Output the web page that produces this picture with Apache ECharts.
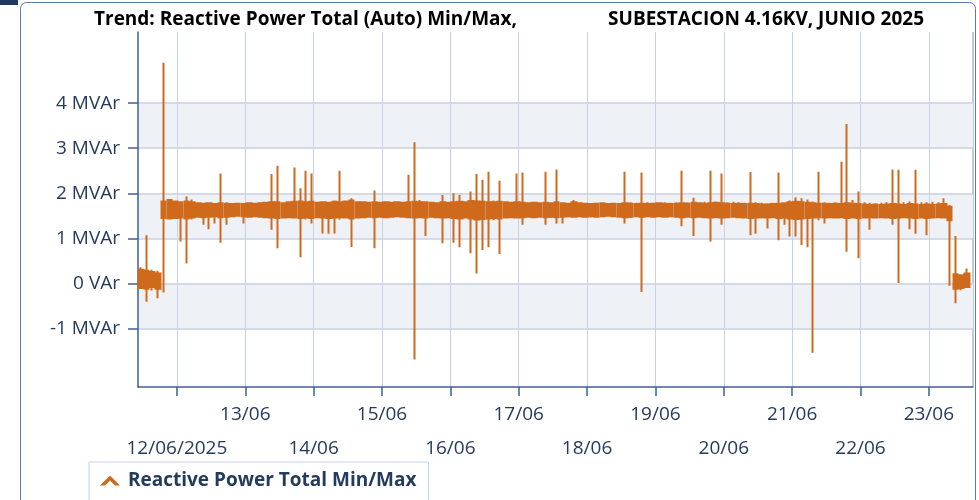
<!DOCTYPE html>
<html>
<head>
<meta charset="utf-8">
<title>Reactive Power Total</title>
<script src="https://cdn.jsdelivr.net/npm/echarts@6/dist/echarts.min.js"></script>
<style>
  html, body { margin: 0; padding: 0; background: #fff; }
  #main { width: 979px; height: 500px; }
</style>
</head>
<body>
<div id="main"></div>
<script>
// x is the day of June 2025 (12 = 12/06 00:00)
// 2 hour buckets, first one starts 11/06/2025 10:20
var START = 11 + (10 + 20 / 60) / 24;
var STEP = 2 / 24;

// max of each bucket (MVAr)
var maxVals = [
  0.36, 1.07, 0.30, 0.28, 4.90, 1.84, 1.80, 1.80, 1.93, 1.86,   // 0
  1.80, 1.78, 1.79, 1.77, 2.44, 1.80, 1.78, 1.77, 1.78, 1.79,   // 10
  1.78, 1.80, 1.79, 2.43, 2.61, 1.80, 1.82, 2.57, 2.11, 2.50,   // 20
  2.44, 1.80, 1.82, 1.80, 1.84, 2.50, 1.82, 1.89, 1.82, 1.80,   // 30
  1.81, 2.06, 1.80, 1.82, 1.80, 1.81, 1.80, 2.41, 3.13, 1.85,   // 40
  1.82, 1.80, 1.80, 1.96, 1.80, 2.00, 1.96, 1.82, 2.04, 2.43,   // 50
  2.30, 2.48, 1.84, 2.28, 1.82, 1.80, 2.44, 2.46, 1.80, 1.79,   // 60
  1.80, 2.48, 1.80, 2.53, 1.80, 1.79, 1.85, 1.80, 1.79, 1.78,   // 70
  1.79, 1.80, 1.78, 1.79, 1.78, 2.48, 1.80, 1.79, 2.46, 1.80,   // 80
  1.79, 1.80, 1.80, 1.79, 1.80, 2.50, 1.80, 1.90, 1.80, 1.81,   // 90
  2.50, 1.82, 2.44, 1.80, 1.81, 1.80, 1.79, 2.47, 1.80, 1.79,   // 100
  1.78, 1.79, 2.46, 1.80, 1.84, 1.91, 1.89, 1.86, 1.82, 2.48,   // 110
  1.80, 1.79, 1.80, 2.70, 3.54, 1.85, 2.04, 1.80, 1.79, 1.78,   // 120
  1.79, 1.80, 2.53, 2.52, 1.80, 1.82, 2.52, 1.80, 1.80, 1.81,   // 130
  1.80, 1.89, 1.74, 1.05, 0.19, 0.33                            // 140
];

// min of each bucket (MVAr)
var minVals = [
  -0.12, -0.41, -0.16, -0.33, -0.20, 1.45, 1.50, 0.93, 0.44, 1.42,
  1.48, 1.30, 1.20, 1.33, 0.90, 1.30, 1.48, 1.50, 1.33, 1.50,
  1.50, 1.49, 1.48, 1.19, 0.78, 1.45, 1.47, 1.44, 0.58, 1.42,
  1.33, 1.45, 1.11, 1.10, 1.11, 1.42, 1.45, 0.81, 1.45, 1.47,
  1.48, 0.78, 1.47, 1.48, 1.47, 1.49, 1.46, 1.45, -1.69, 1.45,
  1.05, 1.47, 1.48, 0.89, 1.46, 0.90, 0.80, 1.45, 0.67, 0.22,
  0.74, 0.80, 1.40, 0.65, 1.46, 1.47, 1.45, 1.30, 1.47, 1.48,
  1.47, 1.30, 1.45, 1.33, 1.33, 1.46, 1.47, 1.48, 1.47, 1.46,
  1.48, 1.47, 1.48, 1.47, 1.46, 1.33, 1.45, 1.47, -0.19, 1.47,
  1.48, 1.47, 1.48, 1.47, 1.46, 1.27, 1.46, 1.05, 1.46, 1.47,
  0.93, 1.46, 1.30, 1.47, 1.46, 1.47, 1.45, 1.07, 1.10, 1.44,
  1.22, 1.45, 0.96, 1.30, 1.04, 1.04, 0.85, 0.80, -1.54, 1.40,
  1.33, 1.46, 1.47, 1.46, 0.70, 1.45, 0.56, 1.46, 1.19, 1.47,
  1.48, 1.47, 1.30, 0.01, 1.46, 1.20, 1.10, 1.46, 1.07, 1.47,
  1.48, 1.45, -0.05, -0.44, -0.15, -0.10
];

// upper edge of the dense part of the trace in each bucket
var bandHi = [
  0.30, 0.28, 0.25, 0.22, 1.82, 1.85, 1.82, 1.80, 1.82, 1.80,
  1.78, 1.77, 1.78, 1.76, 1.78, 1.77, 1.76, 1.77, 1.76, 1.78,
  1.77, 1.78, 1.79, 1.80, 1.80, 1.78, 1.80, 1.81, 1.82, 1.80,
  1.81, 1.79, 1.80, 1.79, 1.81, 1.80, 1.82, 1.84, 1.80, 1.80,
  1.79, 1.80, 1.79, 1.80, 1.79, 1.80, 1.79, 1.80, 1.81, 1.80,
  1.80, 1.79, 1.78, 1.80, 1.79, 1.80, 1.81, 1.80, 1.83, 1.82,
  1.81, 1.80, 1.80, 1.81, 1.80, 1.79, 1.80, 1.79, 1.78, 1.79,
  1.78, 1.79, 1.78, 1.80, 1.78, 1.77, 1.80, 1.78, 1.77, 1.76,
  1.77, 1.78, 1.76, 1.77, 1.76, 1.78, 1.77, 1.76, 1.77, 1.76,
  1.77, 1.78, 1.77, 1.76, 1.77, 1.78, 1.77, 1.79, 1.78, 1.77,
  1.78, 1.79, 1.78, 1.77, 1.76, 1.77, 1.76, 1.77, 1.76, 1.75,
  1.75, 1.76, 1.77, 1.78, 1.80, 1.81, 1.80, 1.79, 1.78, 1.77,
  1.77, 1.76, 1.77, 1.76, 1.78, 1.77, 1.76, 1.75, 1.74, 1.75,
  1.74, 1.75, 1.76, 1.75, 1.74, 1.76, 1.75, 1.74, 1.75, 1.74,
  1.75, 1.76, 1.70, 0.20, 0.18, 0.22
];

// lower edge of the dense part of the trace in each bucket
var bandLo = [
  -0.10, -0.12, -0.08, -0.12, 1.45, 1.44, 1.45, 1.46, 1.44, 1.46,
  1.48, 1.47, 1.48, 1.49, 1.47, 1.48, 1.49, 1.50, 1.49, 1.48,
  1.49, 1.48, 1.47, 1.46, 1.45, 1.46, 1.47, 1.46, 1.45, 1.46,
  1.45, 1.47, 1.46, 1.45, 1.46, 1.47, 1.46, 1.44, 1.46, 1.47,
  1.48, 1.47, 1.48, 1.47, 1.48, 1.49, 1.48, 1.47, 1.46, 1.47,
  1.46, 1.48, 1.47, 1.46, 1.47, 1.45, 1.44, 1.46, 1.44, 1.42,
  1.43, 1.44, 1.45, 1.44, 1.46, 1.47, 1.46, 1.47, 1.48, 1.47,
  1.48, 1.47, 1.48, 1.47, 1.48, 1.49, 1.48, 1.49, 1.48, 1.49,
  1.48, 1.49, 1.50, 1.49, 1.48, 1.47, 1.48, 1.49, 1.48, 1.49,
  1.48, 1.49, 1.48, 1.49, 1.48, 1.47, 1.48, 1.47, 1.48, 1.47,
  1.46, 1.47, 1.46, 1.47, 1.48, 1.47, 1.46, 1.45, 1.46, 1.47,
  1.46, 1.47, 1.45, 1.46, 1.44, 1.43, 1.44, 1.45, 1.46, 1.47,
  1.46, 1.47, 1.46, 1.47, 1.45, 1.46, 1.45, 1.46, 1.47, 1.46,
  1.47, 1.46, 1.45, 1.46, 1.47, 1.46, 1.45, 1.46, 1.45, 1.46,
  1.47, 1.46, 1.40, -0.12, -0.10, -0.08
];

var yTicks = [-1, 0, 1, 2, 3, 4];
var dayTicks = [12, 13, 14, 15, 16, 17, 18, 19, 20, 21, 22, 23];
var upperDays = [13, 15, 17, 19, 21, 23];    // first label row
var lowerDays = [12, 14, 16, 18, 20, 22];    // second label row

var labelColor = '#243b5e';
var axisColor = '#3f5f96';
var gridColor = '#c9d1e2';
var orange = '#cf6a1d';
var font = 'Open Sans';

var xMin = 11 + (10 + 20 / 60) / 24;
var xMax = 23 + 15.5 / 24;

function dayLabel(v) {
    var d = Math.round(v);
    return d === 12 ? '12/06/2025' : d + '/06';
}

// one candle per bucket: body = dense band, wick = min/max
var bucketData = [];
for (var i = 0; i < maxVals.length; i++) {
    bucketData.push([START + i * STEP + STEP / 2, bandLo[i], bandHi[i], minVals[i], maxVals[i]]);
}

var chartDom = document.getElementById('main');
var myChart = echarts.init(chartDom, null, { renderer: 'canvas' });

var option = {
    animation: false,
    backgroundColor: '#fff',
    title: [
        {
            text: 'Trend: Reactive Power Total (Auto) Min/Max,',
            left: 89, top: 5,
            textStyle: { fontFamily: font, fontSize: 19, fontWeight: 'bold', color: '#000' }
        },
        {
            text: 'SUBESTACION 4.16KV, JUNIO 2025',
            right: 50, top: 5,
            textStyle: { fontFamily: font, fontSize: 19, fontWeight: 'bold', color: '#000' }
        }
    ],
    graphic: [
        { type: 'rect', shape: { x: 0, y: 0, width: 18, height: 5 }, style: { fill: '#1f3a60' } },
        { type: 'rect', shape: { x: 20.5, y: 2.5, width: 955, height: 520, r: 6 }, style: { fill: null, stroke: '#5a7cb4', lineWidth: 1 }, z: -1 },
        { type: 'line', shape: { x1: 973, y1: 32, x2: 973, y2: 387 }, style: { stroke: '#7f97c0', lineWidth: 1 } }
    ],
    legend: {
        left: 89, top: 462,
        padding: [9, 12, 16, 11],
        itemWidth: 20, itemHeight: 12,
        itemGap: 10,
        borderColor: '#c8d2e3', borderWidth: 1,
        icon: 'path://M0,10 L10,0 L20,10 L15,10 L10,5 L5,10 Z',
        itemStyle: { color: orange, borderWidth: 0 },
        textStyle: { fontFamily: font, fontSize: 19, fontWeight: 'bold', color: labelColor, padding: [0, 0, 0, 3] },
        data: ['Reactive Power Total Min/Max']
    },
    grid: { left: 138, right: 6, top: 32, bottom: 113 },
    xAxis: [
        {
            type: 'value',
            min: xMin, max: xMax,
            axisLine: { show: true, onZero: false, lineStyle: { color: axisColor, width: 1.5 } },
            axisTick: { show: true, length: 9, customValues: dayTicks, lineStyle: { color: axisColor, width: 1.5 } },
            splitLine: { show: true, lineStyle: { color: gridColor, width: 1 } },
            axisLabel: {
                customValues: upperDays,
                margin: 18,
                fontFamily: font, fontSize: 19, color: labelColor,
                formatter: dayLabel
            }
        },
        {
            type: 'value',
            position: 'bottom',
            min: xMin, max: xMax,
            axisLine: { show: false, onZero: false },
            axisTick: { show: false, customValues: lowerDays },
            splitLine: { show: false },
            axisLabel: {
                customValues: lowerDays,
                hideOverlap: false,
                margin: 52,
                fontFamily: font, fontSize: 19, color: labelColor,
                formatter: dayLabel
            }
        }
    ],
    yAxis: {
        type: 'value',
        min: -2.3,
        max: 5.58,
        axisLine: { show: true, onZero: false, lineStyle: { color: axisColor, width: 1.5 } },
        axisTick: { show: true, length: 10, customValues: yTicks, lineStyle: { color: axisColor, width: 1.5 } },
        splitLine: { show: true, lineStyle: { color: gridColor, width: 1.5 } },
        splitArea: { show: true, areaStyle: { color: ['#eef1f6', 'rgba(255,255,255,0)'] } },
        axisLabel: {
            customValues: yTicks,
            margin: 18,
            fontFamily: font, fontSize: 19, color: labelColor,
            formatter: function (v) {
                return v === 0 ? '0 VAr' : v + ' MVAr';
            }
        }
    },
    series: [
        {
            name: 'Reactive Power Total Min/Max',
            type: 'candlestick',
            xAxisIndex: 0,
            data: bucketData,
            encode: { x: 0, y: [1, 2, 3, 4] },
            barWidth: 5,
            itemStyle: {
                color: orange, color0: orange,
                borderColor: orange, borderColor0: orange,
                borderWidth: 2
            }
        }
    ]
};

option && myChart.setOption(option);
</script>
</body>
</html>
